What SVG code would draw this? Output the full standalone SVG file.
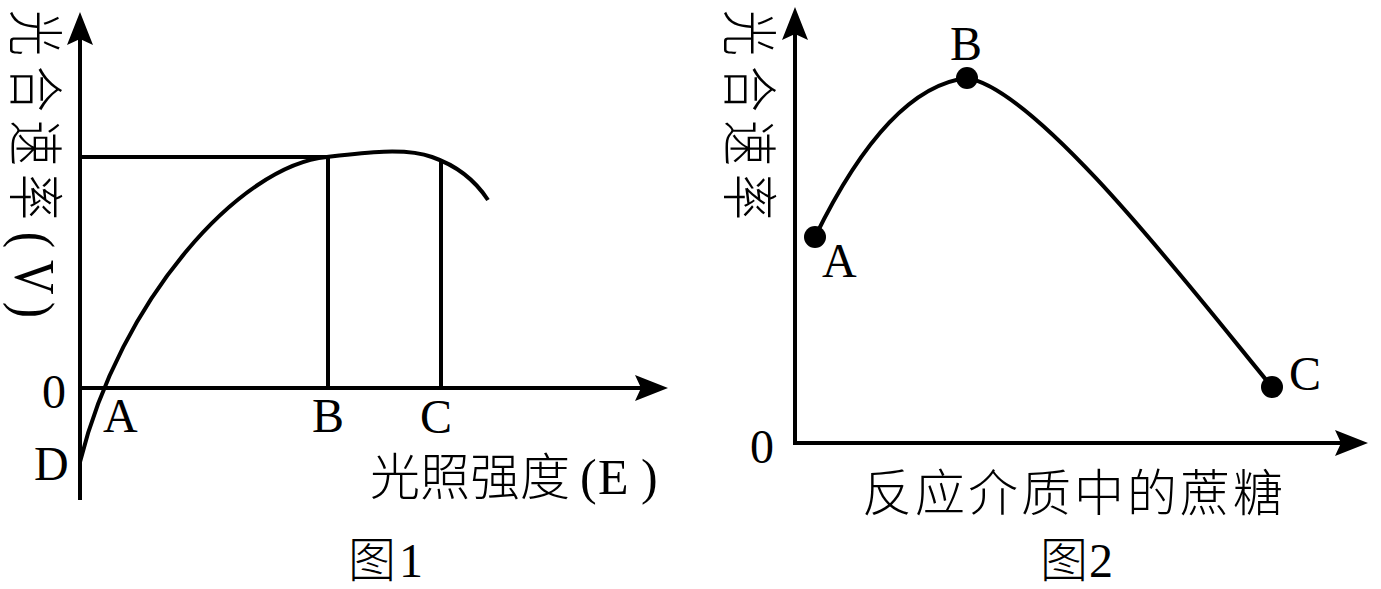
<svg xmlns="http://www.w3.org/2000/svg" width="1381" height="589" viewBox="0 0 1381 589">
<style>
.ax{stroke:#000;stroke-width:4;fill:none}
.cv{stroke:#000;stroke-width:4;fill:none;stroke-linecap:butt}
.ah{fill:#000;stroke:none}
.lt{font-family:"Liberation Serif","Times New Roman",serif;font-size:48px;fill:#000}
.cj{font-family:"Noto Sans CJK SC","Noto Sans CJK JP",sans-serif;font-size:46px;fill:#000;font-weight:300}
.cjl{font-family:"Noto Sans CJK SC","Noto Sans CJK JP",sans-serif;font-size:50px;fill:#000;font-weight:300}
.dot{fill:#000}
</style>
<g id="connectors">
  <!-- figure 1 axes -->
  <line class="ax" x1="80" y1="500" x2="80" y2="38"/>
  <polygon class="ah" points="80,12 67,45 80,39 93,45"/>
  <line class="ax" x1="78" y1="388" x2="642" y2="388"/>
  <polygon class="ah" points="668,388 635,375 641,388 635,401"/>
  <!-- guide lines -->
  <line class="ax" x1="80" y1="157" x2="328" y2="157"/>
  <line class="ax" x1="328" y1="157" x2="328" y2="388"/>
  <line class="ax" x1="441" y1="160" x2="441" y2="388"/>
  <!-- figure 1 curve -->
  <path class="cv" d="M80,462 C120,300 240,165 327,157 C360,153 405,147 432,157 C455,165 475,180 488,200"/>
  <!-- figure 2 axes -->
  <line class="ax" x1="795" y1="445" x2="795" y2="34"/>
  <polygon class="ah" points="795,7 782,40 795,34 808,40"/>
  <line class="ax" x1="793" y1="443" x2="1342" y2="443"/>
  <polygon class="ah" points="1368,443 1335,430 1341,443 1335,456"/>
  <!-- figure 2 curve -->
  <path class="cv" d="M815,237 C855,155 905,85 967,78 C1040,90 1200,300 1272,387"/>
</g>
<g id="fig1-ylabel">
  <text transform="translate(15,10) rotate(90) scale(1,1.2)"><tspan class="cj" x="0" y="0">光</tspan><tspan class="cj" x="56" y="0">合</tspan><tspan class="cj" x="110" y="0">速</tspan><tspan class="cj" x="164" y="0">率</tspan><tspan class="lt" x="222" y="0">(</tspan><tspan class="lt" x="250" y="0">V</tspan><tspan class="lt" x="292" y="0">)</tspan></text>
</g>
<g id="fig1-xlabel">
  <text class="cjl" x="370" y="495">光照强度</text>
  <text class="lt" x="580" y="494" style="font-size:50px">(</text>
  <text class="lt" x="598" y="494" style="font-size:50px">E</text>
  <text class="lt" x="641" y="494" style="font-size:50px">)</text>
</g>
<g id="fig1-ticks">
  <text class="lt" x="42" y="408">0</text>
  <text class="lt" x="103" y="432">A</text>
  <text class="lt" x="312" y="432">B</text>
  <text class="lt" x="420" y="433">C</text>
  <text class="lt" x="34" y="480">D</text>
</g>
<g id="fig1-caption">
  <text class="cjl" x="348" y="577" style="font-size:48px">图</text>
  <text class="lt" x="399" y="577">1</text>
</g>
<g id="fig2-ylabel">
  <text class="cj" transform="translate(729,10) rotate(90) scale(1,1.2)"><tspan x="0" y="0">光</tspan><tspan x="56" y="0">合</tspan><tspan x="110" y="0">速</tspan><tspan x="164" y="0">率</tspan></text>
</g>
<g id="fig2-points">
  <g id="pointA"><circle class="dot" cx="815" cy="237" r="11"/><text class="lt" x="822" y="277">A</text></g>
  <g id="pointB"><circle class="dot" cx="967" cy="78" r="11"/><text class="lt" x="950" y="60">B</text></g>
  <g id="pointC"><circle class="dot" cx="1272" cy="387" r="11"/><text class="lt" x="1289" y="390">C</text></g>
</g>
<g id="fig2-labels">
  <text class="lt" x="750" y="463">0</text>
  <text class="cjl" x="862" y="511" style="letter-spacing:3px">反应介质中的蔗糖</text>
  <text class="cjl" x="1040" y="577" style="font-size:48px">图</text>
  <text class="lt" x="1089" y="577">2</text>
</g>
</svg>
